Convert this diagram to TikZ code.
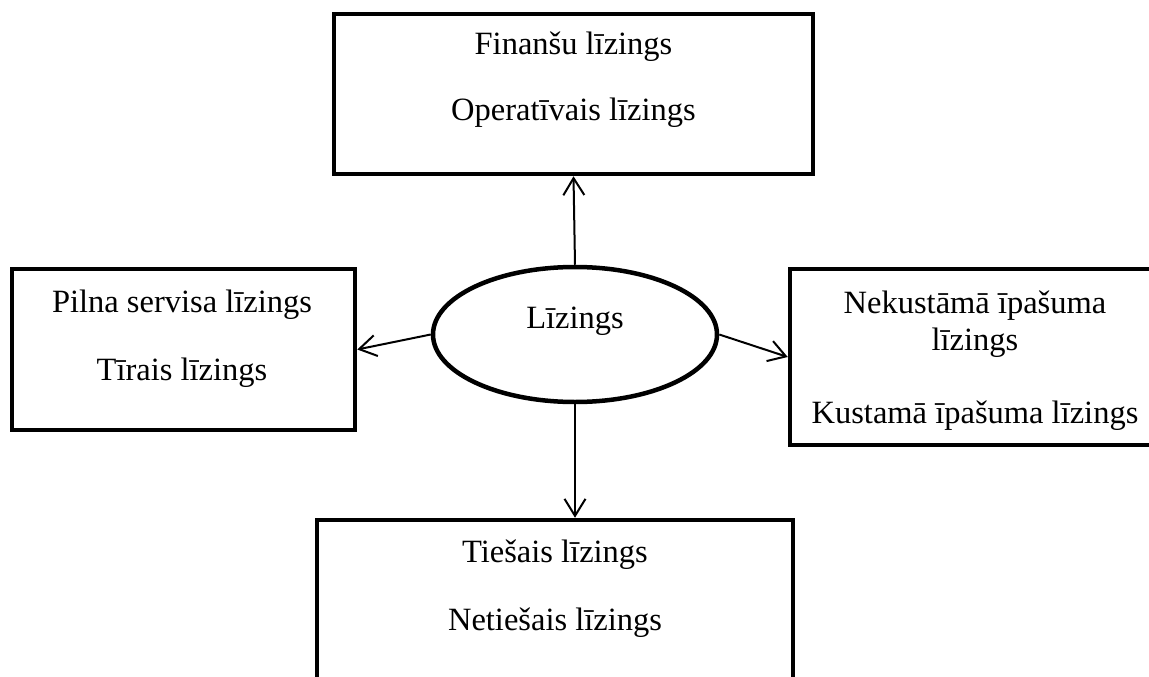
\documentclass[tikz,border=0pt]{standalone}
\usepackage{fontspec}
\setmainfont{Liberation Serif}
\usetikzlibrary{arrows.meta,shapes.geometric}
\begin{document}
\begin{tikzpicture}[x=1pt,y=-1pt,
  box/.style={draw,line width=4.5pt,rectangle,inner sep=0pt},
  oval/.style={draw,line width=4.5pt,ellipse,inner sep=0pt},
  lbl/.style={anchor=base,inner sep=0pt,font=\fontsize{32.5}{39}\selectfont},
  arr/.style={line width=2pt,-{Straight Barb[length=17pt,width=21pt,line width=2pt]}}]
\useasboundingbox (0,0) rectangle (1149,677);

% frames
\node[box,minimum width=479pt,minimum height=160pt] (top) at (573.5,94) {};
\node[box,minimum width=343pt,minimum height=161pt] (left) at (183.5,349.5) {};
\node[box,minimum width=370pt,minimum height=176pt] (right) at (975,357) {};
\node[box,minimum width=476pt,minimum height=180pt] (bot) at (555,610) {};
\node[oval,minimum width=284pt,minimum height=135pt] (lz) at (575,334.5) {};

% labels
\node[lbl] (lzt) at (575,328) {Līzings};
\node[lbl] (t1) at (573.5,55) {Finanšu līzings};
\node[lbl] (t2) at (573.5,120) {Operatīvais līzings};
\node[lbl] (l1) at (182,312) {Pilna servisa līzings};
\node[lbl] (l2) at (182,380) {Tīrais līzings};
\node[lbl] (r1) at (975,313) {Nekustāmā īpašuma};
\node[lbl] (r2) at (975,350) {līzings};
\node[lbl] (r3) at (975,423) {Kustamā īpašuma līzings};
\node[lbl] (b1) at (555,562) {Tiešais līzings};
\node[lbl] (b2) at (555,630) {Netiešais līzings};

% connectors
\draw[arr] (lz.north) -- (top.south);
\draw[arr] (lz.west) -- (left.east);
\draw[arr] (lz.east) -- (right.west);
\draw[arr] (lz.south) -- (lz.south |- bot.north);
\end{tikzpicture}
\end{document}
